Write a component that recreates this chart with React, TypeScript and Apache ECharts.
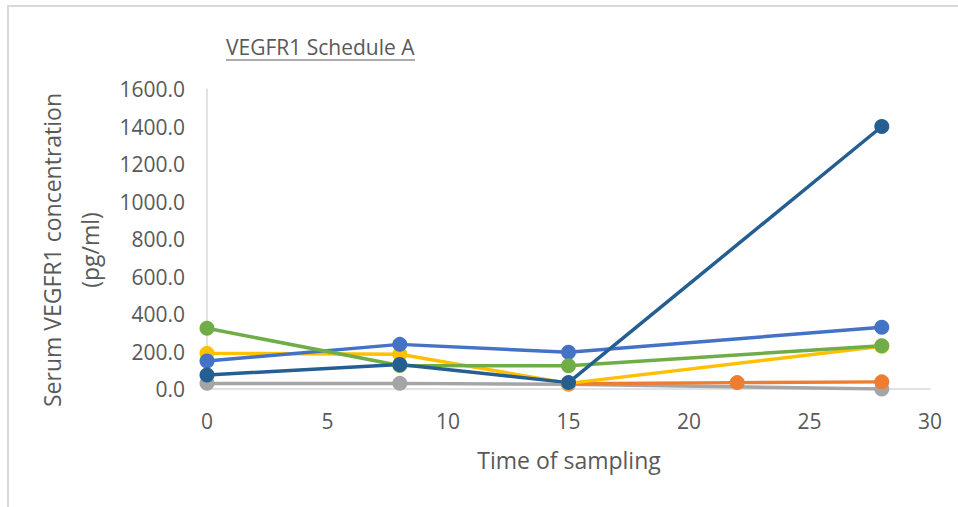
import React, { useEffect, useRef } from "react";
import * as echarts from "echarts";

const TITLE = "VEGFR1 Schedule A";
const X_TITLE = "Time of sampling";
const Y_TITLE = "Serum VEGFR1 concentration\n(pg/ml)";

const grayData = [[0, 30], [8, 30], [15, 25], [28, 0]];
const orangeData = [[15, 28], [22, 34], [28, 38]];
const yellowData = [[0, 190], [8, 185], [15, 30], [28, 228]];
const blueData = [[0, 149], [8, 238], [15, 196], [28, 329]];
const greenData = [[0, 324], [8, 125], [15, 124], [28, 231]];
const darkBlueData = [[0, 75], [8, 131], [15, 34], [28, 1400]];

const seriesDefs = [
  { name: "Gray", color: "#A5A5A5", data: grayData },
  { name: "Orange", color: "#ED7D31", data: orangeData },
  { name: "Yellow", color: "#FFC000", data: yellowData },
  { name: "Blue", color: "#4472C4", data: blueData },
  { name: "Green", color: "#70AD47", data: greenData },
  { name: "DarkBlue", color: "#255E91", data: darkBlueData },
];

const FONT = "'Open Sans', sans-serif";
const TXT = "#595959";

export default function App() {
  const ref = useRef<HTMLDivElement>(null);
  useEffect(() => {
    if (!ref.current) return;
    const chart = echarts.init(ref.current, undefined, { renderer: "svg" });
    chart.setOption({
      animation: false,
      backgroundColor: "#ffffff",
      grid: { left: 207, right: 28, top: 89, bottom: 118, containLabel: false },
      xAxis: {
        type: "value",
        min: 0,
        max: 30,
        interval: 5,
        axisLine: { show: true, lineStyle: { color: "#D9D9D9", width: 1.5 } },
        axisTick: { show: false },
        splitLine: { show: false },
        axisLabel: { color: TXT, fontSize: 21, fontFamily: FONT, margin: 21 },
      },
      yAxis: {
        type: "value",
        min: 0,
        max: 1600,
        interval: 200,
        axisLine: { show: true, lineStyle: { color: "#D9D9D9", width: 1.5 } },
        axisTick: { show: false },
        splitLine: { show: false },
        axisLabel: {
          color: TXT,
          fontSize: 21,
          fontFamily: FONT,
          margin: 22,
          formatter: (v: number) => v.toFixed(1),
        },
      },
      series: seriesDefs.map((s) => ({
        type: "line",
        name: s.name,
        data: s.data,
        symbol: "circle",
        symbolSize: 15,
        lineStyle: { color: s.color, width: 3.5 },
        itemStyle: { color: s.color },
        emphasis: { disabled: true },
      })),
      graphic: [
        {
          type: "rect",
          shape: { x: 8, y: 6, width: 980, height: 520 },
          style: { fill: "none", stroke: "#D9D9D9", lineWidth: 2 },
          silent: true,
        },
        {
          type: "text",
          x: 226,
          y: 47,
          style: {
            text: TITLE,
            fill: TXT,
            fontSize: 21,
            fontFamily: FONT,
            textAlign: "left",
            textVerticalAlign: "middle",
          },
        },
        {
          type: "line",
          shape: { x1: 226, y1: 60, x2: 415, y2: 60 },
          style: { stroke: TXT, lineWidth: 1 },
        },
        {
          type: "text",
          x: 569,
          y: 460,
          style: {
            text: X_TITLE,
            fill: TXT,
            fontSize: 23,
            fontFamily: FONT,
            textAlign: "center",
            textVerticalAlign: "middle",
          },
        },
        {
          type: "text",
          x: 71,
          y: 250,
          rotation: Math.PI / 2,
          style: {
            text: Y_TITLE,
            fill: TXT,
            fontSize: 23,
            fontFamily: FONT,
            lineHeight: 38,
            textAlign: "center",
            textVerticalAlign: "middle",
          },
        },
      ],
    });
    return () => chart.dispose();
  }, []);
  return (
    <div
      ref={ref}
      style={{ position: "fixed", left: 0, top: 0, width: 958, height: 507 }}
    />
  );
}
